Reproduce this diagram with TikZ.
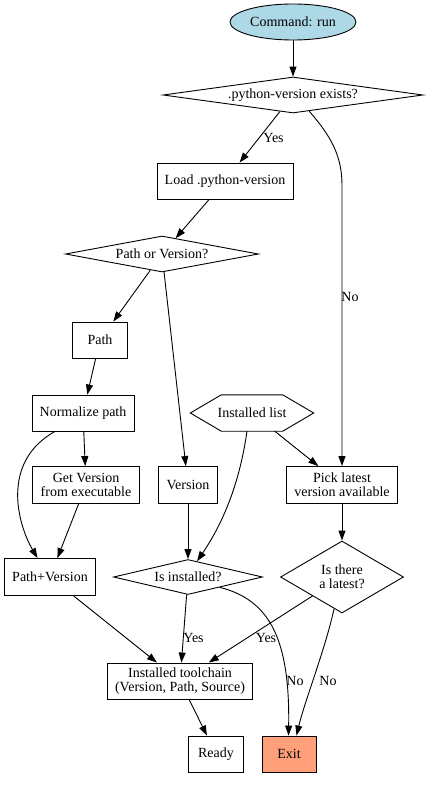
\documentclass[tikz,border=0pt]{standalone}
\usepackage{fontspec}
\setmainfont{Liberation Serif}
\usetikzlibrary{shapes.geometric,arrows.meta}
\definecolor{cmdblue}{HTML}{ADD8E6}
\definecolor{exitsalmon}{HTML}{FFA07A}
\tikzset{
  every node/.style={font=\fontsize{14}{14}\selectfont, inner sep=0pt},
  box/.style={draw, rectangle, line width=0.9pt, minimum height=36pt, align=center},
  dia/.style={draw, diamond, line width=0.9pt, minimum height=36pt, align=center},
  conn/.style={line width=0.9pt, -{Triangle[length=10pt,width=7pt]}},
  lbl/.style={font=\fontsize{14}{14}\selectfont},
}
\begin{document}
\begin{tikzpicture}[x=1pt,y=-1pt]
\useasboundingbox (0,0) rectangle (428,792);
% nodes
\node[draw, ellipse, fill=cmdblue, line width=0.9pt, minimum width=126pt, minimum height=36pt] (cmd) at (293,22) {Command: run};
\node[dia, aspect=7.2, minimum width=260pt] (exists) at (293,95) {.python-version exists?};
\node[box, minimum width=136pt] (load) at (225,181) {Load .python-version};
\node[dia, aspect=5.4, minimum width=193pt] (pov) at (162,254) {Path or Version?};
\node[box, minimum width=55pt] (path) at (100,340) {Path};
\node[box, minimum width=102pt] (norm) at (83,413) {Normalize path};
\node[minimum width=123pt, minimum height=36pt] (list) at (252,413) {Installed list};
\draw[line width=0.9pt] (list.west) -- ([xshift=31pt]list.north west) -- ([xshift=-31pt]list.north east) -- (list.east) -- ([xshift=-31pt]list.south east) -- ([xshift=31pt]list.south west) -- cycle;
\node[box, minimum width=107pt, minimum height=37pt] (getv) at (86,485) {Get Version\\from executable};
\node[box, minimum width=59pt, minimum height=37pt] (ver) at (188,485) {Version};
\node[box, minimum width=111pt, minimum height=37pt] (pick) at (342,485) {Pick latest\\version available};
\node[box, minimum width=91pt, minimum height=37pt] (pv) at (50,577) {Path+Version};
\node[dia, aspect=4.3, minimum width=149pt, minimum height=35pt] (isinst) at (188,577) {Is installed?};
\node[dia, aspect=1.7, minimum width=123pt, minimum height=72pt] (latest) at (342,577) {Is there\\a latest?};
\node[box, minimum width=145pt] (tool) at (180,681) {Installed toolchain\\(Version, Path, Source)};
\node[box, minimum width=55pt] (ready) at (216,754) {Ready};
\node[box, minimum width=54pt, fill=exitsalmon] (exit) at (289,754) {Exit};
% connectors
\draw[conn] (cmd) -- (exists);
\draw[conn] (exists) -- (load);
\node[lbl] (yes1) at (273.5,138) {Yes};
\draw[conn] (exists.-45) .. controls (330,135) and (342,155) .. (342,185) -- (pick.north);
\node[lbl] (no1) at (350,297) {No};
\draw[conn] (load) -- (pov);
\draw[conn] (pov) -- (path);
\draw[conn] (pov) -- (ver);
\draw[conn] (path) -- (norm);
\draw[conn] (norm) -- (getv);
\draw[conn] ([xshift=-28pt]norm.south) .. controls (0,462) and (18,525) .. ([xshift=-12.5pt]pv.north);
\draw[conn] (getv) -- (pv);
\draw[conn] (ver) -- (isinst);
\draw[conn] ([xshift=-5pt]list.south) .. controls (240,480) and (225,520) .. (isinst.60);
\draw[conn] (list) -- (pick);
\draw[conn] (pick) -- (latest);
\draw[conn] (pv) -- (tool);
\draw[conn] (isinst) -- (tool);
\node[lbl] (yes2) at (193.5,638) {Yes};
\draw[conn] (isinst.-18) .. controls (270,600) and (290,640) .. ([xshift=-0.5pt]exit.north);
\node[lbl] (no2) at (295,681) {No};
\draw[conn] (latest) -- (tool);
\node[lbl] (yes3) at (266,638) {Yes};
\draw[conn] (latest.-104) .. controls (325,650) and (305,700) .. ([xshift=7.5pt]exit.north);
\node[lbl] (no3) at (328,681) {No};
\draw[conn] (tool) -- (ready);
\end{tikzpicture}
\end{document}
